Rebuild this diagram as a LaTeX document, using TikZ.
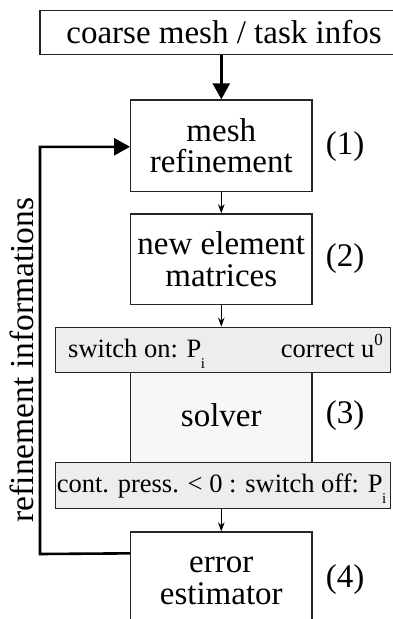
\documentclass[tikz,border=0pt]{standalone}
\usepackage{fontspec}
\setmainfont{Liberation Serif}
\usetikzlibrary{arrows.meta,calc}
\tikzset{
  box/.style={draw=black!85, line width=1.3pt, inner sep=0pt, align=center,
    font=\fontsize{33}{31.5}\selectfont},
  bar/.style={draw=black!85, line width=1.3pt, inner sep=0pt, fill=gray!14,
    minimum width=335.4pt, minimum height=45.4pt},
  bartext/.style={inner sep=0pt, font=\fontsize{26.5}{30}\selectfont},
  numlabel/.style={inner sep=0pt, font=\fontsize{33}{33}\selectfont},
  thinarrow/.style={draw=black, line width=1.2pt, -{Stealth[length=9pt,width=6.5pt]}},
  thickarrow/.style={draw=black, line width=2.6pt, -{Triangle[length=16pt,width=17pt]}},
}
\newcommand{\subi}{\kern-0.5pt\raisebox{-0.42em}{\fontsize{15}{15}\selectfont i}}
\begin{document}
\begin{tikzpicture}[x=1pt,y=-1pt]
\path[use as bounding box, clip] (0,0) rectangle (393,619);
% top box (extends beyond right edge)
\node[box, minimum width=368pt, minimum height=44.5pt] (top) at (224,32.5) {coarse mesh / task infos};
% mesh refinement
\node[box, minimum width=181.3pt, minimum height=91.7pt] (mesh) at (221.3,145.8) {mesh\\refinement};
\node[numlabel] (n1) at (345,147) {(1)};
% new element matrices
\node[box, minimum width=181.3pt, minimum height=90.5pt] (mat) at (221.3,259.2) {new element\\matrices};
\node[numlabel] (n2) at (345,259) {(2)};
% solver
\node[box, fill=gray!6, minimum width=181.3pt, minimum height=90.7pt] (solver) at (221.3,418) {\raisebox{5pt}{solver}};
\node[numlabel] (n3) at (345,416) {(3)};
% bars
\node[bar] (bar1) at (223,350) {};
\node[bartext, anchor=base west] (b1l) at (68,357) {switch on: P\subi};
\node[bartext, anchor=base east] (b1r) at (383,357) {correct u\raisebox{0.45em}{\fontsize{17}{17}\selectfont 0}};
\node[bar] (bar2) at (223,485.5) {};
\node[bartext, anchor=base] (b2) at (221.5,492) {cont. press. {<} 0 : switch off: P\subi};
% error estimator (extends below)
\node[box, minimum width=181.3pt, minimum height=98pt] (err) at (221.3,581) {error\\estimator};
\node[numlabel] (n4) at (345,580) {(4)};
% arrows
\draw[thickarrow] (mesh.north |- top.south) -- (mesh.north);
\draw[thinarrow] (mesh.south) -- (mat.north);
\draw[thinarrow] (mat.south) -- (mat.south |- bar1.north);
\draw[thinarrow] (err.north |- bar2.south) -- (err.north);
% feedback
\coordinate (fbstart) at ([yshift=-22pt]err.north west);
\coordinate (fbcorner) at (40,554);
\draw[thickarrow] (fbstart) -- (fbcorner) |- ([yshift=-1pt]mesh.west);
\node[rotate=90, anchor=base, inner sep=0pt, font=\fontsize{33.5}{33.5}\selectfont] (fblabel) at (33,360) {refinement informations};
\end{tikzpicture}
\end{document}
